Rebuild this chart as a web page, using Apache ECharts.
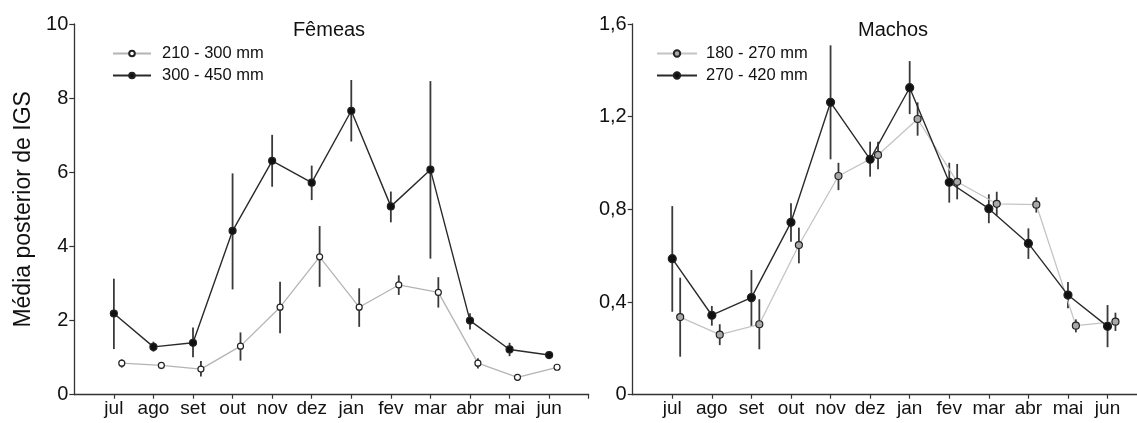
<!DOCTYPE html>
<html>
<head>
<meta charset="utf-8">
<script src="https://cdn.jsdelivr.net/npm/echarts@6/dist/echarts.min.js"></script>
<style>
html,body{margin:0;padding:0;background:#fff;}
#c{width:1137px;height:423px;}
</style>
</head>
<body>
<div id="c"></div>
<script>
// ---- data ----
const months = ['jul','ago','set','out','nov','dez','jan','fev','mar','abr','mai','jun'];

// Fêmeas
const femSmallName = '210 - 300 mm';
const femSmall   = [0.85,0.79,0.69,1.31,2.36,3.72,2.36,2.96,2.76,0.85,0.47,0.74];
const femSmallLo = [0.73,0.69,0.49,0.92,1.66,2.91,1.83,2.69,2.35,0.71,0.44,0.68];
const femSmallHi = [0.95,0.87,0.91,1.68,3.05,4.55,2.87,3.22,3.17,0.98,0.50,0.80];

const femLargeName = '300 - 450 mm';
const femLarge   = [2.19,1.29,1.40,4.42,6.31,5.72,7.66,5.08,6.07,2.00,1.22,1.07];
const femLargeLo = [1.23,1.16,1.01,2.84,5.61,5.25,6.83,4.65,3.67,1.76,1.04,1.03];
const femLargeHi = [3.13,1.43,1.81,5.97,7.01,6.18,8.49,5.48,8.46,2.20,1.40,1.11];

// Machos
const malSmallName = '180 - 270 mm';
const malSmall   = [0.335,0.259,0.304,0.646,0.944,1.035,1.190,0.919,0.824,0.820,0.298,0.315];
const malSmallLo = [0.164,0.214,0.196,0.567,0.883,0.973,1.118,0.843,0.773,0.786,0.269,0.275];
const malSmallHi = [0.505,0.304,0.412,0.721,1.001,1.092,1.262,0.996,0.876,0.852,0.325,0.354];

const malLargeName = '270 - 420 mm';
const malLarge   = [0.587,0.343,0.419,0.744,1.262,1.016,1.325,0.917,0.803,0.653,0.430,0.295];
const malLargeLo = [0.358,0.298,0.296,0.660,1.016,0.941,1.211,0.829,0.740,0.586,0.373,0.205];
const malLargeHi = [0.814,0.383,0.538,0.826,1.508,1.092,1.440,1.001,0.865,0.718,0.486,0.387];

const femYTicks = [0,2,4,6,8,10];
const malYTicks = [0,0.4,0.8,1.2,1.6];

// ---- build ----
const FONT = 'Liberation Sans, Arial, sans-serif';
const AX = '#333';
const monthPos = months.map((m,i)=>i+1);
const OFFSET = 0.2;

function pts(vals, off){ return vals.map((v,i)=>[i+1+off, v]); }
function errPts(lo, hi, off){ return lo.map((l,i)=>[i+1+off, l, hi[i]]); }

function lineSeries(name, vals, off, idx, lineColor, fill, lw, size){
  return {
    name: name, type:'line', xAxisIndex: idx, yAxisIndex: idx,
    data: pts(vals, off), symbol:'circle', symbolSize: size,
    lineStyle:{color: lineColor, width: lw},
    itemStyle:{color: fill, borderColor:'#222', borderWidth:1.2},
    z: 4, silent:true
  };
}
function errSeries(lo, hi, off, idx){
  return {
    type:'custom', xAxisIndex: idx, yAxisIndex: idx, z: 3, silent:true,
    data: errPts(lo, hi, off),
    renderItem: function(params, api){
      const a = api.coord([api.value(0), api.value(1)]);
      const b = api.coord([api.value(0), api.value(2)]);
      return {type:'line', shape:{x1:a[0], y1:a[1], x2:b[0], y2:b[1]},
              style:{stroke:'#3a3a3a', lineWidth:1.8}};
    }
  };
}

function xAxis(idx, max){
  return {
    type:'value', gridIndex: idx, min:0, max:max,
    axisLine:{show:true, onZero:false, lineStyle:{color:AX, width:1.3}},
    axisTick:{show:true, length:4, customValues: monthPos.concat(idx===0?[13]:[]), lineStyle:{color:AX, width:1.2}},
    axisLabel:{customValues: monthPos, margin:5, fontSize:19, color:'#111', fontFamily:FONT,
      formatter: v => months[Math.round(v)-1] || ''},
    splitLine:{show:false}
  };
}
function yAxis(idx, ticks, fmt, name){
  return {
    type:'value', gridIndex: idx, min: ticks[0], max: ticks[ticks.length-1],
    interval: ticks[1]-ticks[0],
    name: name, nameLocation:'middle', nameGap: 39,
    nameTextStyle:{fontSize:23, color:'#111', fontFamily:FONT},
    axisLine:{show:true, lineStyle:{color:AX, width:1.3}},
    axisTick:{show:true, length:5, lineStyle:{color:AX, width:1.2}},
    axisLabel:{margin:6, fontSize:20, color:'#111', fontFamily:FONT, formatter: fmt},
    splitLine:{show:false}
  };
}

const option = {
  animation:false,
  backgroundColor:'#fff',
  title:[
    {text:'Fêmeas', left:324, top:15, textAlign:'center',
     textStyle:{fontSize:20, fontWeight:'normal', color:'#111', fontFamily:FONT}},
    {text:'Machos', left:888, top:15, textAlign:'center',
     textStyle:{fontSize:20, fontWeight:'normal', color:'#111', fontFamily:FONT}}
  ],
  legend:[
    {data:[femSmallName, femLargeName], orient:'vertical', left:112, top:45, padding:0,
     itemWidth:38, itemHeight:7, itemGap:5,
     textStyle:{fontSize:16.5, color:'#111', fontFamily:FONT, padding:[0,0,0,6]}},
    {data:[malSmallName, malLargeName], orient:'vertical', left:656, top:45, padding:0,
     itemWidth:40, itemHeight:8, itemGap:5,
     textStyle:{fontSize:16.5, color:'#111', fontFamily:FONT, padding:[0,0,0,4]}}
  ],
  grid:[
    {left:74.3, top:24, width:514.4, height:370.7},
    {left:632.7, top:24, width:504.3, height:370.7}
  ],
  xAxis:[ xAxis(0, 13), xAxis(1, 504.3/39.57) ],
  yAxis:[
    yAxis(0, femYTicks, v => String(v), 'Média posterior de IGS'),
    yAxis(1, malYTicks, v => v===0 ? '0' : v.toFixed(1).replace('.', ','), '')
  ],
  series:[
    errSeries(femSmallLo, femSmallHi, OFFSET, 0),
    errSeries(femLargeLo, femLargeHi, 0, 0),
    lineSeries(femSmallName, femSmall, OFFSET, 0, '#b4b4b4', '#ffffff', 1.3, 6),
    lineSeries(femLargeName, femLarge, 0, 0, '#2a2a2a', '#111111', 1.4, 7),
    errSeries(malSmallLo, malSmallHi, OFFSET, 1),
    errSeries(malLargeLo, malLargeHi, 0, 1),
    lineSeries(malSmallName, malSmall, OFFSET, 1, '#c4c4c4', '#a8a8a8', 1.3, 7),
    lineSeries(malLargeName, malLarge, 0, 1, '#2a2a2a', '#111111', 1.4, 8)
  ]
};

const chart = echarts.init(document.getElementById('c'), null, {renderer:'canvas'});
chart.setOption(option);
</script>
</body>
</html>
